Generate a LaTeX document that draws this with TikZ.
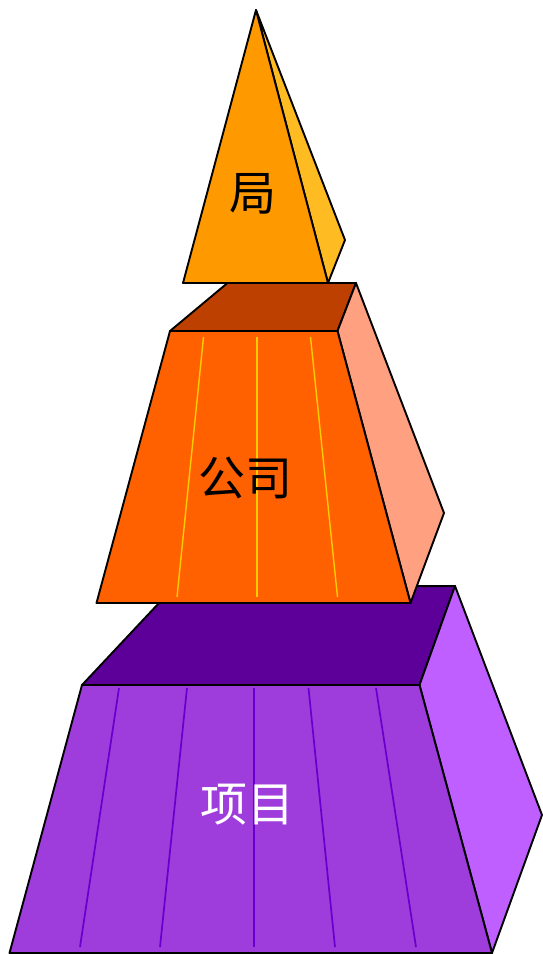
\documentclass[tikz,border=0pt]{standalone}
\usepackage{xcolor}
\usepackage{fontspec}
\newfontfamily\cjk{Noto Sans CJK SC}
\definecolor{juFront}{RGB}{255,153,0}
\definecolor{juSide}{RGB}{255,187,34}
\definecolor{gsFront}{RGB}{255,96,0}
\definecolor{gsTop}{RGB}{190,64,0}
\definecolor{gsSide}{RGB}{255,160,128}
\definecolor{gsLine}{RGB}{255,204,0}
\definecolor{xmFront}{RGB}{158,60,220}
\definecolor{xmTop}{RGB}{92,0,153}
\definecolor{xmSide}{RGB}{191,95,255}
\definecolor{xmLine}{RGB}{102,0,204}
\tikzset{
  face/.style={draw=black, line width=1.9pt, line join=round},
  stripe/.style={line width=1.4pt},
  levelname/.style={font=\cjk\fontsize{47}{56}\selectfont, inner sep=0pt},
}

\begin{document}
\begin{tikzpicture}[x=1pt, y=-1pt]
\useasboundingbox (0,0) rectangle (542,954);
% bottom block
\fill[face, fill=xmTop] (82,685) -- (174,587) -- (455,586) -- (419.5,685) -- cycle;
\fill[face, fill=xmSide] (419.5,685) -- (455,586) -- (542,815) -- (492,953) -- cycle;
\fill[face, fill=xmFront] (82,685) -- (419.5,685) -- (492,953) -- (9.5,953) -- cycle;
\foreach \a/\b in {119/80, 187/160, 254/254, 308.5/335, 376/416}
  \draw[stripe, xmLine, line width=1.7pt] (\a,688) -- (\b,947);
\node[levelname, text=white] (xm) at (247,805) {项目};
% middle block
\fill[face, fill=gsTop] (170,331) -- (227.5,283) -- (356,283) -- (337.5,331) -- cycle;
\fill[face, fill=gsSide] (337.5,331) -- (356,283) -- (444,513) -- (410.5,603) -- cycle;
\fill[face, fill=gsFront] (170,331) -- (337.5,331) -- (410.5,603) -- (96.5,603) -- cycle;
\foreach \a/\b in {203.5/177, 257/257, 310.5/337.5}
  \draw[stripe, gsLine] (\a,337) -- (\b,597);
\node[levelname] (gs) at (245,478) {公司};
% top pyramid
\fill[face, fill=juSide] (256,10) -- (345,240) -- (328,283) -- cycle;
\fill[face, fill=juFront] (256,10) -- (328,283) -- (183,283) -- cycle;
\node[levelname] (ju) at (253,194) {局};
\end{tikzpicture}
\end{document}
